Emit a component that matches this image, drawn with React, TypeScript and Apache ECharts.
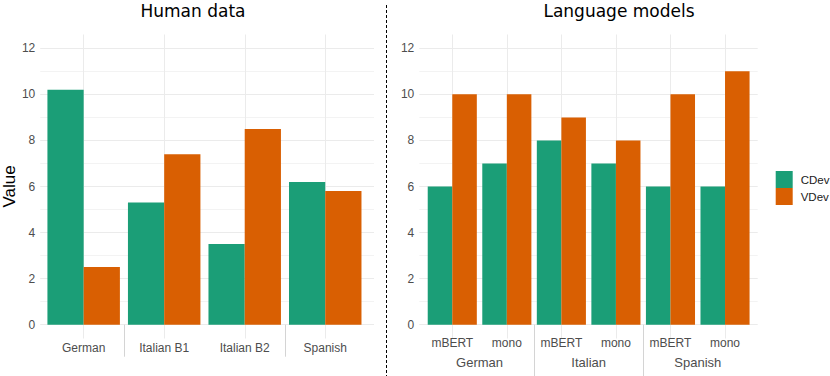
import React, { useEffect, useRef } from "react";
import * as echarts from "echarts";

const humanCats = ["German", "Italian B1", "Italian B2", "Spanish"];
const humanCDev = [10.2, 5.3, 3.5, 6.2];
const humanVDev = [2.5, 7.4, 8.5, 5.8];
const humanBreaks = [1, 3];

const lmLanguages = ["German", "Italian", "Spanish"];
const lmModels = ["mBERT", "mono"];
const lmCDev = [6, 7, 8, 7, 6, 6];
const lmVDev = [10, 10, 9, 8, 10, 11];
const lmBreaks = [2, 4];

const yTicks = [0, 2, 4, 6, 8, 10, 12];

const GREEN = "#1B9E77";
const ORANGE = "#D95F02";
const GRID = "#EBEBEB";
const SEP = "#D4D4D4";
const AXTXT = "#4D4D4D";
const FONT = "Liberation Sans, Arial, sans-serif";
const TICK_FS = 12;

export default function App() {
  const ref = useRef<HTMLDivElement>(null);
  useEffect(() => {
    if (!ref.current) return;
    const chart = echarts.init(ref.current, undefined, { renderer: "svg" });
    const lmCats = lmLanguages.flatMap((l) => lmModels.map((m) => l + "|" + m));
    const bounds = (n: number) => Array.from({ length: n + 1 }, (_, i) => String(i));

    const yMin = yTicks[0];
    const yMax = yTicks[yTicks.length - 1];
    const yInt = yTicks[1] - yTicks[0];

    const bgY = (gridIndex: number, name?: string) => ({
      type: "value",
      gridIndex,
      min: yMin,
      max: yMax,
      interval: yInt,
      name,
      nameLocation: "middle",
      nameGap: 21,
      nameRotate: 90,
      nameTextStyle: { fontFamily: FONT, fontSize: 17, color: "#000" },
      axisLine: { show: false },
      axisTick: { show: false },
      axisLabel: { color: AXTXT, fontFamily: FONT, fontSize: TICK_FS, margin: 5 },
      splitLine: { show: true, lineStyle: { color: GRID, width: 1 } },
      minorTick: { show: false, splitNumber: 2 },
      minorSplitLine: { show: true, lineStyle: { color: GRID, width: 0.6 } },
    });
    const hiddenY = (gridIndex: number, min = yMin, max = yMax) => ({
      type: "value",
      gridIndex,
      min,
      max,
      show: false,
    });
    const hiddenXVal = (gridIndex: number) => ({ type: "value", gridIndex, show: false, min: 0, max: 1 });
    const vlineX = (gridIndex: number, data: string[]) => ({
      type: "category",
      gridIndex,
      data,
      boundaryGap: false,
      axisLine: { show: false },
      axisTick: { show: false },
      axisLabel: { show: false, interval: 0 },
      splitLine: { show: true, interval: 0, lineStyle: { color: GRID, width: 1 } },
    });
    const sepX = (gridIndex: number, n: number, breaks: number[], length: number) => ({
      type: "category",
      gridIndex,
      position: "bottom",
      offset: 0,
      data: bounds(n),
      boundaryGap: false,
      axisLine: { show: false },
      axisLabel: { show: false },
      splitLine: { show: false },
      axisTick: {
        show: true,
        length,
        interval: (i: number) => breaks.includes(i),
        lineStyle: { color: SEP, width: 1 },
      },
    });

    const option: any = {
      animation: false,
      backgroundColor: "#fff",
      grid: [
        { left: 35, top: 48.3, width: 339, height: 276.4 },
        { left: 83.7, top: 34.5, width: 241.6, height: 304 },
        { left: 43.4, top: 48.3, width: 322.1, height: 276.4 },
        { left: 419.3, top: 48.3, width: 338.4, height: 276.4 },
        { left: 452.3, top: 34.5, width: 272.7, height: 304 },
        { left: 425.0, top: 48.3, width: 327.3, height: 276.4 },
      ],
      xAxis: [
        hiddenXVal(0),
        vlineX(1, humanCats),
        {
          type: "category",
          gridIndex: 2,
          data: humanCats,
          axisLine: { show: false },
          axisTick: { show: false },
          axisLabel: { color: AXTXT, fontFamily: FONT, fontSize: TICK_FS, margin: 17, interval: 0 },
        },
        hiddenXVal(3),
        vlineX(4, lmCats),
        {
          type: "category",
          gridIndex: 5,
          data: lmCats,
          position: "bottom",
          offset: 0,
          axisLine: { show: false },
          axisTick: { show: false },
          axisLabel: {
            color: AXTXT,
            fontFamily: FONT,
            fontSize: TICK_FS,
            margin: 12.5,
            interval: 0,
            formatter: (v: string) => v.split("|")[1],
          },
        },
        {
          type: "category",
          gridIndex: 5,
          data: lmLanguages,
          position: "bottom",
          offset: 0,
          axisLine: { show: false },
          axisTick: { show: false },
          axisLabel: { color: AXTXT, fontFamily: FONT, fontSize: 13, margin: 31, interval: 0 },
        },
        sepX(2, humanCats.length, humanBreaks, 32),
        sepX(5, lmCats.length, lmBreaks, 52),
      ],
      yAxis: [
        bgY(0, "Value"),
        hiddenY(1, 0, 1),
        hiddenY(2),
        bgY(3),
        hiddenY(4, 0, 1),
        hiddenY(5),
      ],
      legend: {
        orient: "vertical",
        left: 770.7,
        top: 166,
        itemWidth: 17,
        itemHeight: 17,
        itemGap: 0,
        icon: "rect",
        data: ["CDev", "VDev"],
        textStyle: { fontFamily: FONT, fontSize: 11.5, color: "#1a1a1a", padding: [0, 0, 0, 3] },
      },
      series: [
        {
          name: "CDev",
          type: "bar",
          xAxisIndex: 2,
          yAxisIndex: 2,
          data: humanCDev,
          barWidth: "45%",
          barGap: "0%",
          itemStyle: { color: GREEN },
        },
        {
          name: "VDev",
          type: "bar",
          xAxisIndex: 2,
          yAxisIndex: 2,
          data: humanVDev,
          barWidth: "45%",
          barGap: "0%",
          itemStyle: { color: ORANGE },
        },
        {
          name: "CDev",
          type: "bar",
          xAxisIndex: 5,
          yAxisIndex: 5,
          data: lmCDev,
          barWidth: "45%",
          barGap: "0%",
          itemStyle: { color: GREEN },
        },
        {
          name: "VDev",
          type: "bar",
          xAxisIndex: 5,
          yAxisIndex: 5,
          data: lmVDev,
          barWidth: "45%",
          barGap: "0%",
          itemStyle: { color: ORANGE },
        },
      ],
      graphic: [
        {
          type: "text",
          x: 193,
          y: 11,
          style: {
            text: "Human data",
            fontFamily: "DejaVu Sans",
            fontSize: 17,
            fill: "#000",
            textAlign: "center",
            textVerticalAlign: "middle",
          },
        },
        {
          type: "text",
          x: 619,
          y: 11,
          style: {
            text: "Language models",
            fontFamily: "DejaVu Sans",
            fontSize: 17,
            fill: "#000",
            textAlign: "center",
            textVerticalAlign: "middle",
          },
        },
        {
          type: "line",
          shape: { x1: 386.5, y1: 5, x2: 386.5, y2: 376 },
          style: { stroke: "#000", lineWidth: 1, lineDash: [3, 2] },
        },
      ],
    };
    chart.setOption(option);
    return () => chart.dispose();
  }, []);
  return (
    <div
      ref={ref}
      style={{ position: "absolute", left: 0, top: 0, width: 830, height: 376 }}
    />
  );
}
